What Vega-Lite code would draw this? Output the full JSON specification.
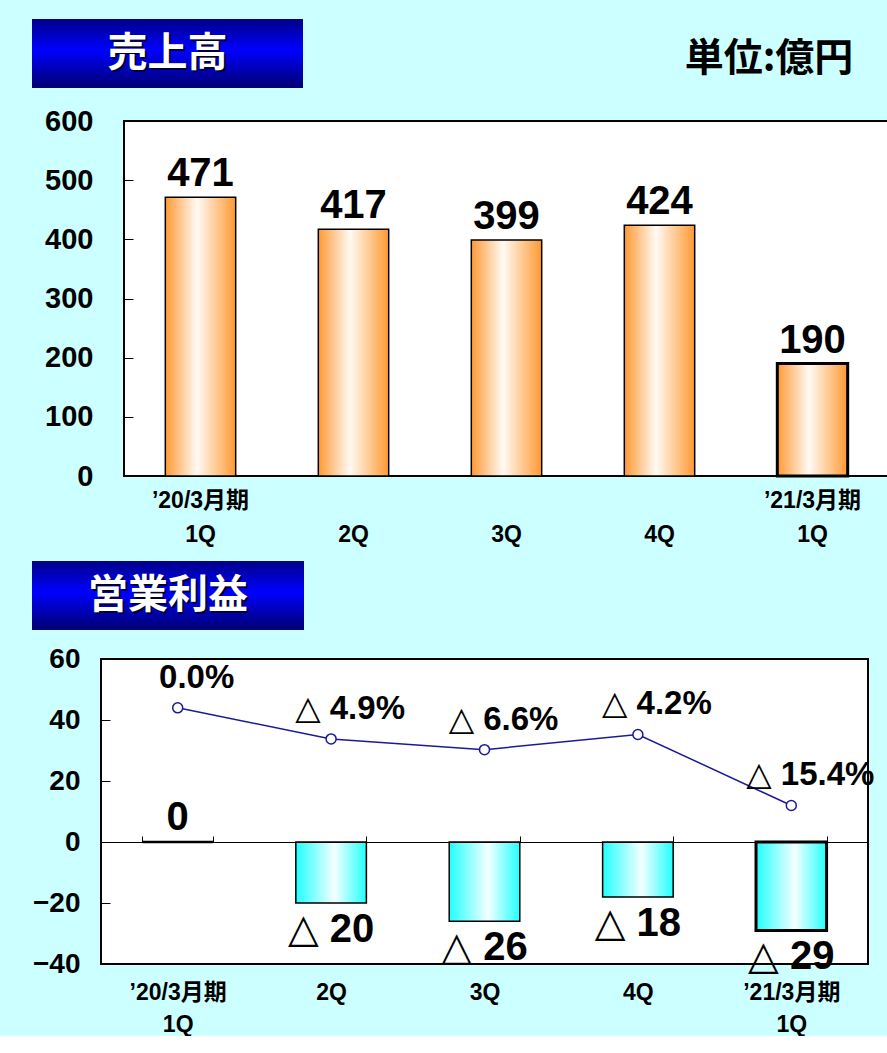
{
  "$schema": "https://vega.github.io/schema/vega-lite/v6.json",
  "background": "#ccffff",
  "padding": {"left": 32, "top": 19, "right": 0, "bottom": 0},
  "spacing": 15,
  "datasets": {
    "quarters": [
      {"q": "’20/3月期|1Q", "sales": 471, "op": 0, "margin": 0.0, "op_label": "0", "margin_label": "0.0%"},
      {"q": "2Q", "sales": 417, "op": -20, "margin": -4.9, "op_label": "△ 20", "margin_label": "△ 4.9%"},
      {"q": "3Q", "sales": 399, "op": -26, "margin": -6.6, "op_label": "△ 26", "margin_label": "△ 6.6%"},
      {"q": "4Q", "sales": 424, "op": -18, "margin": -4.2, "op_label": "△ 18", "margin_label": "△ 4.2%"},
      {"q": "’21/3月期|1Q", "sales": 190, "op": -29, "margin": -15.4, "op_label": "△ 29", "margin_label": "△ 15.4%"}
    ]
  },
  "config": {
    "font": "Liberation Sans, Noto Sans CJK JP, sans-serif",
    "axis": {
      "labelColor": "black",
      "labelFontWeight": "bold",
      "labelFont": "Liberation Sans, Noto Sans CJK JP, sans-serif",
      "grid": false,
      "tickColor": "black"
    },
    "text": {"fontWeight": "bold", "color": "black", "font": "Liberation Sans, DejaVu Sans, Noto Sans CJK JP, sans-serif"}
  },
  "vconcat": [
    {
      "spacing": 380,
      "hconcat": [
        {
          "width": 271,
          "height": 69,
          "data": {"values": [{"t": "売上高"}]},
          "view": {
            "stroke": null,
            "fill": {
              "gradient": "linear", "x1": 0, "y1": 0, "x2": 0, "y2": 1,
              "stops": [
                {"offset": 0, "color": "#000088"},
                {"offset": 0.45, "color": "#0000ff"},
                {"offset": 1, "color": "#000070"}
              ]
            }
          },
          "layer": [
            {"mark": {"type": "text", "fontSize": 40, "font": "Noto Sans CJK JP", "color": "#000033", "dx": 2, "dy": 2}, "encoding": {"text": {"field": "t"}}},
            {"mark": {"type": "text", "fontSize": 40, "font": "Noto Sans CJK JP", "color": "white"}, "encoding": {"text": {"field": "t"}}}
          ]
        },
        {
          "width": 172,
          "height": 73,
          "data": {"values": [{"t": "単位:億円"}]},
          "view": {"stroke": null},
          "mark": {"type": "text", "fontSize": 39, "font": "Noto Sans CJK JP", "dy": 3},
          "encoding": {"text": {"field": "t"}}
        }
      ]
    },
    {
      "width": 857,
      "height": 355,
      "view": {"stroke": null},
      "layer": [
        {
          "data": {"values": [{}]},
          "mark": {"type": "rect", "fill": "white", "stroke": "black", "strokeWidth": 2},
          "encoding": {
            "x": {"datum": 0, "type": "quantitative", "scale": {"domain": [0, 1], "range": [92, 857]}, "axis": null},
            "x2": {"datum": 1},
            "y": {"datum": 0, "type": "quantitative"},
            "y2": {"datum": 600}
          }
        },
        {
          "data": {"name": "quarters"},
          "encoding": {
            "x": {
              "field": "q", "type": "nominal", "sort": null,
              "scale": {"range": [92, 857], "paddingInner": 0.54, "paddingOuter": 0.27},
              "axis": {
                "title": null, "domain": false, "ticks": false, "labelAngle": 0, "zindex": 1,
                "labelFontSize": 23, "labelLineHeight": 34, "labelPadding": 13,
                "labelExpr": "indexof(datum.value, '|') < 0 ? ['', datum.value] : split(datum.value, '|')"
              }
            }
          },
          "layer": [
            {
              "mark": {
                "type": "bar", "stroke": "black",
                "fill": {
                  "gradient": "linear", "x1": 0, "y1": 0, "x2": 1, "y2": 0,
                  "stops": [
                    {"offset": 0, "color": "#ff9933"},
                    {"offset": 0.45, "color": "#fffaf4"},
                    {"offset": 1, "color": "#ff9933"}
                  ]
                }
              },
              "encoding": {
                "y": {
                  "field": "sales", "type": "quantitative",
                  "scale": {"domain": [0, 600]},
                  "axis": {
                    "values": [0, 100, 200, 300, 400, 500, 600], "offset": -92, "zindex": 1,
                    "domain": false, "tickSize": -9, "labelFontSize": 29, "labelPadding": 40,
                    "title": null
                  }
                },
                "strokeWidth": {"condition": {"test": "indexof(datum.q, '21') >= 0", "value": 3}, "value": 1.5}
              }
            },
            {
              "mark": {"type": "text", "baseline": "bottom", "dy": -3, "fontSize": 40},
              "encoding": {
                "y": {"field": "sales", "type": "quantitative"},
                "text": {"field": "sales", "type": "quantitative"}
              }
            }
          ]
        }
      ],
      "resolve": {"scale": {"x": "independent"}}
    },
    {
      "width": 272,
      "height": 69,
      "data": {"values": [{"t": "営業利益"}]},
      "view": {
        "stroke": null,
        "fill": {
          "gradient": "linear", "x1": 0, "y1": 0, "x2": 0, "y2": 1,
          "stops": [
            {"offset": 0, "color": "#000088"},
            {"offset": 0.45, "color": "#0000ff"},
            {"offset": 1, "color": "#000070"}
          ]
        }
      },
      "layer": [
        {"mark": {"type": "text", "fontSize": 40, "font": "Noto Sans CJK JP", "color": "#000033", "dx": 2, "dy": 2}, "encoding": {"text": {"field": "t"}}},
        {"mark": {"type": "text", "fontSize": 40, "font": "Noto Sans CJK JP", "color": "white"}, "encoding": {"text": {"field": "t"}}}
      ]
    },
    {
      "width": 836,
      "height": 305,
      "view": {"stroke": null},
      "layer": [
        {
          "data": {"values": [{}]},
          "mark": {"type": "rect", "fill": "white", "stroke": "black", "strokeWidth": 2},
          "encoding": {
            "x": {"datum": 0, "type": "quantitative", "scale": {"domain": [0, 1], "range": [69, 836]}, "axis": null},
            "x2": {"datum": 1},
            "y": {"datum": -40, "type": "quantitative", "scale": {"domain": [-40, 60]}, "axis": null},
            "y2": {"datum": 60}
          }
        },
        {
          "data": {"name": "quarters"},
          "encoding": {
            "x": {
              "field": "q", "type": "nominal", "sort": null,
              "scale": {"range": [69, 836], "paddingInner": 0.54, "paddingOuter": 0.27},
              "axis": {
                "title": null, "offset": -122, "zindex": 1, "domain": true, "domainColor": "black", "domainWidth": 1,
                "ticks": true, "tickBand": "extent", "tickSize": -6, "labelAngle": 0,
                "labelFontSize": 23, "labelLineHeight": 32, "labelPadding": 145,
                "labelExpr": "isValid(datum.value) ? split(datum.value, '|') : ''"
              }
            }
          },
          "layer": [
            {
              "layer": [
                {
                  "mark": {
                    "type": "bar", "stroke": "black",
                    "fill": {
                      "gradient": "linear", "x1": 0, "y1": 0, "x2": 1, "y2": 0,
                      "stops": [
                        {"offset": 0, "color": "#22ffff"},
                        {"offset": 0.55, "color": "#f4ffff"},
                        {"offset": 1, "color": "#22ffff"}
                      ]
                    }
                  },
                  "encoding": {
                    "y": {
                      "field": "op", "type": "quantitative",
                      "scale": {"domain": [-40, 60]},
                      "axis": {
                        "values": [-40, -20, 0, 20, 40, 60], "offset": -69, "zindex": 1,
                        "domain": false, "tickSize": -9, "labelFontSize": 28, "labelPadding": 30,
                        "title": null
                      }
                    },
                    "strokeWidth": {
                      "condition": [
                        {"test": "indexof(datum.q, '21') >= 0", "value": 3},
                        {"test": "datum.op == 0", "value": 2.5}
                      ],
                      "value": 1.5
                    }
                  }
                },
                {
                  "transform": [{"filter": "datum.op >= 0"}],
                  "mark": {"type": "text", "baseline": "bottom", "dy": -4, "fontSize": 40},
                  "encoding": {
                    "y": {"field": "op", "type": "quantitative"},
                    "text": {"field": "op_label"}
                  }
                },
                {
                  "transform": [{"filter": "datum.op < 0"}],
                  "mark": {"type": "text", "baseline": "top", "dy": 7, "fontSize": 40},
                  "encoding": {
                    "y": {"field": "op", "type": "quantitative"},
                    "text": {"field": "op_label"}
                  }
                }
              ]
            },
            {
              "encoding": {
                "y": {"field": "margin", "type": "quantitative", "scale": {"domain": [-40.4, 7.7]}, "axis": null}
              },
              "layer": [
                {"mark": {"type": "line", "color": "#1a1a99", "strokeWidth": 1.5}},
                {"mark": {"type": "point", "shape": "circle", "filled": true, "fill": "white", "stroke": "#1a1a99", "strokeWidth": 1.5, "size": 100, "opacity": 1}},
                {
                  "mark": {"type": "text", "baseline": "middle", "dy": -30, "dx": 19, "fontSize": 33},
                  "encoding": {"text": {"field": "margin_label"}}
                }
              ]
            }
          ],
          "resolve": {"scale": {"y": "independent"}}
        }
      ],
      "resolve": {"scale": {"x": "independent", "y": "independent"}}
    }
  ]
}
